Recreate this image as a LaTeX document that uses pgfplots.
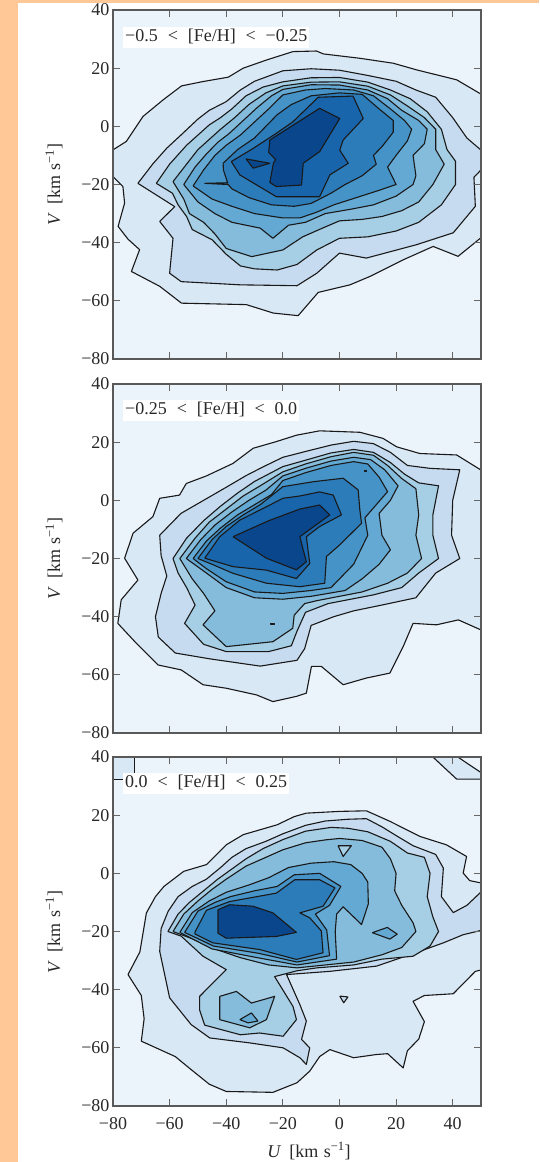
\documentclass[border=0pt]{standalone}
\usepackage{fontspec}
\setmainfont{Liberation Serif}
\usepackage{pgfplots}
\pgfplotsset{compat=1.18}
\definecolor{c0}{RGB}{235,243,251}
\definecolor{c1}{RGB}{217,232,245}
\definecolor{c2}{RGB}{198,219,239}
\definecolor{c3}{RGB}{166,206,228}
\definecolor{c4}{RGB}{133,188,220}
\definecolor{c5}{RGB}{100,169,211}
\definecolor{c6}{RGB}{70,147,199}
\definecolor{c7}{RGB}{44,124,186}
\definecolor{c8}{RGB}{24,101,171}
\definecolor{c9}{RGB}{9,70,140}
\definecolor{peach}{RGB}{255,200,150}
\definecolor{txt}{RGB}{40,40,40}
\pgfplotsset{
  panel/.style={
    scale only axis, width=368pt, height=349pt,
    xmin=-80, xmax=50, ymin=-80, ymax=40,
    axis background/.style={fill=c0},
    axis on top, clip=true,
    xtick={-80,-60,-40,-20,0,20,40},
    ytick={-80,-60,-40,-20,0,20,40},
    yticklabels={−80,−60,−40,−20,0,20,40},
    tick align=inside, tick pos=both,
    major tick length=7pt,
    tick style={line width=0.9pt, color=black!60},
    axis line style={line width=1.2pt, color=black!65},
    ticklabel style={font=\fontsize{18}{18}\selectfont, text=txt},
  },
  ct/.style={draw=black!90, line width=1.1pt, line join=round},
}
\newcommand{\lab}{\fontsize{18}{18}\selectfont}
\newcommand{\gsp}{\hspace{0.55em}}
\begin{document}
\begin{tikzpicture}
\path[use as bounding box, fill=peach] (0,0) rectangle (539pt,-1162pt);
\fill[white] (18pt,-3pt) rectangle (539pt,-1162pt);

% ---------------- Panel 1 ----------------
\begin{axis}[panel, at={(113pt,-10pt)}, anchor=north west, xticklabels={}]
\addplot[ct, fill=c1] coordinates {(-81,-8.7) (-75.3,-5.2) (-69.4,3.4) (-62.3,9.1) (-55.8,13.9) (-48.2,15.4) (-39.3,16.9) (-34,20) (-25.8,22.8) (-16.4,25.7) (-8.1,25.9) (-5.7,24.9) (7.2,23.4) (19,21.7) (27.3,19.4) (41.4,16) (51,10.5) (51,-37.5) (41.9,-44.7) (33.1,-41.3) (22.5,-45.9) (10.8,-51.6) (3.7,-54.5) (-7.5,-57.1) (-14.6,-65.1) (-23.4,-64.2) (-32.9,-61.3) (-55.8,-60.8) (-63.5,-55) (-73.5,-49.9) (-70.6,-42.4) (-74.7,-38.8) (-78.2,-34.4) (-75.9,-26.4) (-76.5,-20.7) (-81,-16.3) (-81,-8.7)};
\addplot[ct, fill=c2] coordinates {(-71.2,-19.6) (-66,-13) (-61,-7.5) (-56,-3) (-50,2.5) (-46,5.5) (-40,8.5) (-35,12.5) (-30,15.5) (-20,19.1) (-10,19.8) (0,19.3) (10,17.5) (20,15.5) (27,12.5) (34,10) (40,3) (45,-4) (51,-9) (51,-14) (47.5,-17.5) (48,-27.5) (40.2,-36.6) (27.2,-40.7) (9.5,-45.3) (0,-43.6) (-8,-50.5) (-15,-54.8) (-35,-54.5) (-55.9,-53.4) (-60,-50.5) (-58.8,-38.5) (-63.5,-32.7) (-58.2,-27.6) (-71.2,-19.6)};
\addplot[ct, fill=c3] coordinates {(-64.7,-19.6) (-60,-13) (-54,-6.5) (-50,-3) (-46,0.5) (-42,3) (-38,6) (-33,10.5) (-27,13.5) (-20,15.3) (-10,16.7) (0,16.8) (10,15.2) (18,12.5) (25,9.5) (31,5) (36,-1) (38,-8) (41,-12) (41,-20) (36,-27) (28,-33) (20,-36) (10,-38) (0,-38.5) (-8,-42.5) (-15,-47.5) (-22,-49.4) (-30,-49) (-35,-48) (-40,-44) (-45,-39) (-52,-35.5) (-54,-31) (-57,-27) (-59,-23) (-64.7,-19.6)};
\addplot[ct, fill=c4] coordinates {(-58.8,-19) (-54,-13) (-50,-8) (-46,-4.5) (-42,-1) (-37,3) (-32,7.5) (-26,11.5) (-20,13.9) (-10,15.2) (0,15.3) (10,13.8) (18,10.8) (24,7) (30,3) (34,-1) (34,-8) (37,-13) (33,-20) (28,-26) (22,-29) (15,-31) (8,-32) (0,-32.5) (-6,-35) (-13,-38) (-20,-42.5) (-31,-44.8) (-40,-42) (-44,-37) (-48,-33) (-53,-30) (-55,-25) (-58.8,-19)};
\addplot[ct, fill=c5] coordinates {(-55,-20) (-51,-14) (-47,-9.5) (-43,-5.5) (-39,-2.5) (-34,2) (-29,6.5) (-24,10.5) (-20,12.7) (-10,14.3) (0,14.2) (10,12.5) (17,9.5) (22,5.5) (28,2) (31,-1) (30,-6) (26,-10) (27,-17) (26,-20) (20,-24) (12,-27) (4,-28.5) (-5,-30) (-12,-33) (-18,-34) (-23.5,-38.5) (-28,-35) (-38,-33) (-44,-30) (-50,-26) (-55,-20)};
\addplot[ct, fill=c6] coordinates {(-51.7,-20.5) (-48,-15) (-44,-10) (-40,-6.5) (-35,-3) (-30,1.5) (-25,6) (-20,10.8) (-12,12.5) (-5,13) (5,12.5) (12,10.5) (18,6) (23,2) (25.5,-1) (24,-5) (20,-10) (17,-14) (20,-20) (14,-22) (6,-24.5) (-2,-27) (-8,-29.5) (-14,-31.5) (-20,-31.5) (-30,-30) (-38,-27.5) (-45,-25) (-51.7,-20.5)};
\addplot[ct, fill=c7] coordinates {(-41.1,-12.7) (-36,-8) (-30,-4) (-26,0) (-22,4) (-17,7.5) (-10,10.5) (0,11.5) (8,11) (14,6) (19,2) (19,-2) (15,-7) (12,-10) (13,-13) (8,-17) (2,-20) (-3,-23) (-10,-26.5) (-16,-27.5) (-24,-27) (-32,-24.5) (-38,-21.5) (-39.3,-20) (-47.6,-19.6) (-39.5,-19.4) (-41,-15) (-41.1,-12.7)};
\addplot[ct, fill=c8] coordinates {(-38.2,-12.1) (-30.5,-7.6) (-22.3,-2.4) (-16.4,1.6) (-7.5,10) (4.8,10.4) (8.4,2.7) (1.3,-4.7) (0.1,-8.2) (3.1,-12.7) (-3.4,-16.7) (-7,-24.2) (-22.3,-24.2) (-35.2,-16.7) (-38.2,-12.1)};
\addplot[ct, fill=c9] coordinates {(-24.6,-4.7) (-7,6.2) (0.1,2.7) (-7,-8.7) (-12.8,-12.7) (-13.4,-20.2) (-22.3,-20.7) (-24.6,-19.3) (-23.3,-12.5) (-22.5,-11.5) (-25,-9) (-24.6,-4.7)};
\addplot[ct, fill=c9] coordinates {(-33,-11.2) (-24.6,-12.7) (-30.5,-14.4) (-33,-11.2)};
\end{axis}

% ---------------- Panel 2 ----------------
\begin{axis}[panel, at={(113pt,-384pt)}, anchor=north west, xticklabels={}]
\addplot[ct, fill=c1] coordinates {(-75.9,-19.9) (-72.9,-11.3) (-65.9,-5.6) (-63.5,0.7) (-56.5,1.8) (-54.1,5.8) (-47,8.4) (-37.6,12.7) (-30.5,17.9) (-22.3,20.2) (-15.2,22.4) (-7,23.9) (7.2,23.4) (15.4,21.3) (20.2,18.4) (28.4,16.1) (41.4,15.6) (51,9.8) (51,-45) (42,-41.1) (34.3,-42.8) (26,-42.3) (22.5,-50.3) (17.8,-59.4) (9.5,-61.1) (1.3,-63.4) (-6.4,-57.1) (-9.9,-57.1) (-11.7,-66.3) (-15.2,-67.4) (-23.5,-69.2) (-29.3,-66.9) (-40,-64.6) (-48.2,-63.4) (-55.9,-58.3) (-64.1,-56.6) (-71.8,-49.1) (-78.3,-42.3) (-77.1,-34.2) (-71.2,-27.4) (-75.9,-19.9)};
\addplot[ct, fill=c2] coordinates {(-63.5,-12) (-56,-4.5) (-48,0) (-40,4.5) (-33,8.5) (-27,11.5) (-20,14.8) (-12,16.8) (-3,19) (5,20.3) (12,19.5) (18,16.5) (24,12) (32,11) (42.5,10.5) (40,0) (39.6,-12) (42.5,-20) (34,-25) (27,-33.5) (15,-36) (5,-38) (-2,-40) (-10,-43) (-12.3,-51) (-15,-55) (-28,-57) (-45.8,-54.5) (-58,-52.5) (-64,-47) (-65,-40) (-63,-32) (-61,-26) (-63,-19) (-63.5,-12)};
\addplot[ct, fill=c3] coordinates {(-58.8,-20) (-54,-13) (-48,-7) (-42,-2) (-36,2.5) (-30,6.5) (-20,11.6) (-12,13.8) (-3,16.3) (5,17.5) (12,16.5) (18,13) (23,9) (28,6) (35,5) (33,-5) (33,-12) (35,-20) (28,-25) (22,-30) (12,-32.5) (4,-34) (-4,-35.5) (-12,-38.5) (-15,-45) (-17,-50) (-25,-52) (-40,-52) (-48,-49.5) (-54.7,-42.3) (-51,-36) (-54,-30) (-57,-25) (-58.8,-20)};
\addplot[ct, fill=c4] coordinates {(-56.4,-20) (-51,-13) (-46,-7.5) (-40,-3) (-34,1.5) (-28,5) (-20,9.8) (-12,12.5) (-3,15) (5,16.5) (12,15.5) (17,12) (22,7.5) (27,4) (28,-5) (27,-12) (29,-20) (24,-25) (17,-28.5) (8,-31.5) (0,-33) (-8,-34.5) (-12.3,-35.5) (-16,-39.5) (-16.5,-44) (-23.5,-48.6) (-40,-50.3) (-48.2,-42.8) (-44,-38) (-48,-32) (-52,-27) (-56.4,-20)};
\addplot[ct, fill=c5] coordinates {(-54.1,-20) (-49,-13.5) (-44,-8.5) (-38,-4) (-32,0) (-26,3.5) (-20,8.4) (-12,11) (-3,13.5) (5,14.8) (11,14) (16,10.5) (20.7,5) (18,0) (14,-4.5) (15,-12) (18,-17) (14,-22) (8,-27) (2,-31) (-10,-33) (-20,-34) (-30,-33.5) (-40,-30) (-47,-25) (-54.1,-20)};
\addplot[ct, fill=c6] coordinates {(-51.7,-20) (-47,-14) (-42,-9.5) (-36,-5) (-30,-1.5) (-24,2) (-20,6.8) (-12,9.5) (-3,12) (5,13.3) (10,12.5) (14,8) (17,3) (13,-1.5) (9,-6) (10,-12) (8,-16) (5,-22) (0,-27) (-3,-30) (-10,-31) (-20,-32) (-30,-31.5) (-40,-28) (-47,-23.5) (-51.7,-20)};
\addplot[ct, fill=c7] coordinates {(-50,-20) (-45,-13.5) (-40,-9) (-34,-5) (-28,-1.5) (-20,4.7) (-9.3,6.4) (1.3,7.6) (6.6,3.6) (7.2,-3.3) (7.8,-7.9) (0.1,-15.3) (-4.6,-19.3) (-5.2,-28.5) (-14,-29.7) (-25.8,-28.5) (-37.6,-25.1) (-45,-22) (-50,-20)};
\addplot[ct, fill=c8] coordinates {(-47.6,-19.9) (-42.3,-12.5) (-35.2,-6.8) (-25.8,-2.2) (-20,0.7) (-14,1.5) (-7,2.9) (-2.2,1.8) (0.7,-5) (-7,-9) (-11.7,-12.5) (-10.5,-21.7) (-15.2,-26.9) (-25.8,-24) (-37.6,-22.8) (-47.6,-19.9)};
\addplot[ct, fill=c9] coordinates {(-37.6,-12.5) (-25,-7) (-14,-3) (-7,-1.6) (-3.4,-5) (-14,-12.5) (-11.7,-21.1) (-15.2,-23.9) (-25.8,-19.9) (-37.6,-12.5)};
\addplot[ct, fill=c7] coordinates {(8.9,10.3) (9.7,10.3) (9.7,9.9) (8.9,9.9) (8.9,10.3)};
\addplot[ct, fill=c5] coordinates {(-24.2,-42.3) (-22.8,-42.3) (-22.8,-42.7) (-24.2,-42.7) (-24.2,-42.3)};
\end{axis}

% ---------------- Panel 3 ----------------
\begin{axis}[panel, at={(113pt,-757pt)}, anchor=north west,
  xticklabels={−80,−60,−40,−20,0,20,40},
  xticklabel style={yshift=-8pt}]
\addplot[ct, fill=c1] coordinates {(-81,41) (-72.3,41) (-72.3,32.4) (-81,32.4) (-81,41)};
\addplot[ct, fill=c1] coordinates {(33,41) (33,40) (41.4,32.4) (51,32.4) (51,34) (41.8,40) (41.8,41) (33,41)};
\addplot[ct, fill=c1] coordinates {(-74.7,-34.8) (-70.5,-27) (-68.2,-13.6) (-65,-8) (-62,-4.5) (-55,0.7) (-47,3) (-40,9.8) (-34,13.3) (-28,15) (-22,16.7) (-16,19.5) (-11.7,20.7) (0,21.3) (9.5,21.5) (17.8,17.9) (28.4,12.7) (37.8,9.8) (44.9,5.8) (43.7,0.1) (46,-2.5) (51,-3.5) (51,-33) (48,-33.7) (40.2,-41.4) (30,-42) (26,-44) (30,-51) (28,-57) (24,-61) (22.5,-66.9) (17,-62) (13,-62.3) (5,-63.4) (-3.4,-60.6) (-7,-63) (-10.5,-68) (-15,-72) (-23.5,-75.3) (-40,-75) (-46,-72.5) (-53,-67) (-58,-63) (-70,-57.7) (-69,-50) (-70,-42) (-74.7,-34.8)};
\addplot[ct, fill=c2] coordinates {(-63,-19) (-60.5,-13) (-57,-8) (-52,-4.5) (-47,-2) (-42,2) (-38,5.5) (-33,8.5) (-26,11) (-20,13.6) (-12,16.5) (-5,18) (3,18.6) (9.5,18.8) (15,16) (20,13) (26,9.5) (34,6.5) (36.7,1.8) (36,-8) (40.2,-13.5) (45,-11) (51,-5.5) (51,-19.4) (43.7,-21.1) (36.7,-23.9) (28.4,-26.8) (13.1,-31.9) (-3.4,-33.7) (-18.7,-34.8) (-14,-45.1) (-11.7,-50.8) (-13.4,-57.1) (-10.5,-60) (-11.7,-65.7) (-14,-63.4) (-19.9,-60) (-31.7,-58.3) (-45.8,-56.6) (-52.4,-52) (-60,-42.8) (-63.5,-26.8) (-63,-19)};
\addplot[ct, fill=c2] coordinates {(0.1,-42.2) (3,-42.5) (1.5,-44.5) (0.1,-42.2)};
\addplot[ct, fill=c3] coordinates {(-60.6,-20) (-57,-14) (-53,-10) (-48,-6) (-43,-2) (-38,1.5) (-33,5) (-27,8.5) (-20,11.6) (-12,14.5) (-3,15.8) (3,15.5) (10,14.3) (18,11) (24,7) (30,5.5) (32,0) (31,-8) (33,-15) (35,-20) (32,-25) (26,-28.5) (15,-29.5) (5,-31.5) (-8,-32.5) (-15,-33.5) (-22.9,-35.5) (-16.4,-45.8) (-15.2,-50.3) (-19.9,-56) (-28.2,-54.9) (-35,-55.5) (-47.6,-52.2) (-49.4,-47) (-49.4,-42.3) (-40,-33.1) (-48.2,-28.5) (-55.9,-21.6) (-60.6,-20)};
\addplot[ct, fill=c4] coordinates {(-58.8,-20) (-55,-14) (-50,-9.5) (-45,-5.5) (-40,-2) (-33,2.5) (-26,5.5) (-20,8.1) (-12,10.5) (-5,11.5) (0,12) (8,11.3) (15,9) (18,5) (20,0) (19.5,-6) (22,-11) (26,-17) (27,-20) (22,-25.5) (15,-28) (5,-30.5) (-5,-31.5) (-15,-32.5) (-25,-31.5) (-35,-29) (-44,-26) (-52,-22.5) (-58.8,-20)};
\addplot[ct, fill=c3] coordinates {(-0.5,9.5) (4.2,9.5) (1.3,5.8) (-0.5,9.5)};
\addplot[ct, fill=c4] coordinates {(-42.3,-42.3) (-36.4,-40.6) (-31.1,-44.6) (-22.9,-42.3) (-25.8,-50.3) (-31.7,-53.1) (-42.3,-50.3) (-42.3,-42.3)};
\addplot[ct, fill=c5] coordinates {(-35.2,-50.3) (-31.1,-48) (-28.8,-50.8) (-32.3,-51.4) (-35.2,-50.3)};
\addplot[ct, fill=c5] coordinates {(-56.4,-20.3) (-52,-13.5) (-46,-9.5) (-40,-6.5) (-32,-4) (-25,-1.5) (-18,2) (-10,3.5) (-2,4) (4,3) (8,0) (10,-3) (10.2,-10.5) (7.8,-17.6) (1.3,-11.5) (-1,-14) (-1.5,-20) (-1,-29.5) (-15,-31.5) (-29,-29) (-45,-26) (-52,-22.5) (-56.4,-20.3)};
\addplot[ct, fill=c5] coordinates {(11.6,-20.4) (16.9,-18.6) (20.4,-20.9) (17.8,-22.6) (11.6,-20.4)};
\addplot[ct, fill=c6] coordinates {(-54.7,-20.3) (-50,-13) (-44,-10) (-38.5,-8) (-30,-6) (-22,-4.5) (-16,-0.5) (-7,0) (0.5,-4.5) (-3.5,-11) (-8.5,-14) (-4.5,-19.5) (-3.5,-28.3) (-15,-30.5) (-28.5,-27.5) (-44.5,-25) (-51,-22) (-54.7,-20.3)};
\addplot[ct, fill=c7] coordinates {(-51.1,-20.3) (-47,-12.7) (-38.8,-9.7) (-22.3,-6.8) (-15.8,-2.2) (-7,-2.2) (-1.6,-5) (-5.8,-11.3) (-14,-13.6) (-10.5,-15.3) (-6.4,-19.8) (-5.8,-27.3) (-15.2,-29.6) (-28.2,-26.2) (-44.7,-23.9) (-51.1,-20.8) (-51.1,-20.3)};
\addplot[ct, fill=c9] coordinates {(-42.9,-12.5) (-38.8,-10.8) (-30.5,-11.3) (-23.5,-13.6) (-15.2,-20.3) (-22.3,-21.7) (-40,-22.3) (-42.9,-20.6) (-42.9,-12.5)};
\end{axis}

% ---------------- Labels ----------------
\node[fill=white, anchor=north west, inner xsep=2pt, inner ysep=1.5pt, text height=13pt, text depth=4.5pt, font=\lab, text=txt] at (123pt,-27pt) {−0.5\gsp<\gsp[Fe/H]\gsp<\gsp−0.25};
\node[fill=white, anchor=north west, inner xsep=2pt, inner ysep=1.5pt, text height=13pt, text depth=4.5pt, font=\lab, text=txt] at (123pt,-400pt) {−0.25\gsp<\gsp[Fe/H]\gsp<\gsp0.0};
\node[fill=white, anchor=north west, inner xsep=2pt, inner ysep=1.5pt, text height=13pt, text depth=4.5pt, font=\lab, text=txt] at (123pt,-773pt) {0.0\gsp<\gsp[Fe/H]\gsp<\gsp0.25};
\foreach \yc in {184.5,558.5,932} {
  \node[rotate=90, font=\lab, text=txt] at (54pt,-\yc pt) {\textit{V}\hspace{0.45em}[km\hspace{0.3em}s\textsuperscript{−1}]};
}
\node[font=\lab, text=txt] at (309pt,-1151pt) {\textit{U}\hspace{0.45em}[km\hspace{0.3em}s\textsuperscript{−1}]};
\end{tikzpicture}
\end{document}
